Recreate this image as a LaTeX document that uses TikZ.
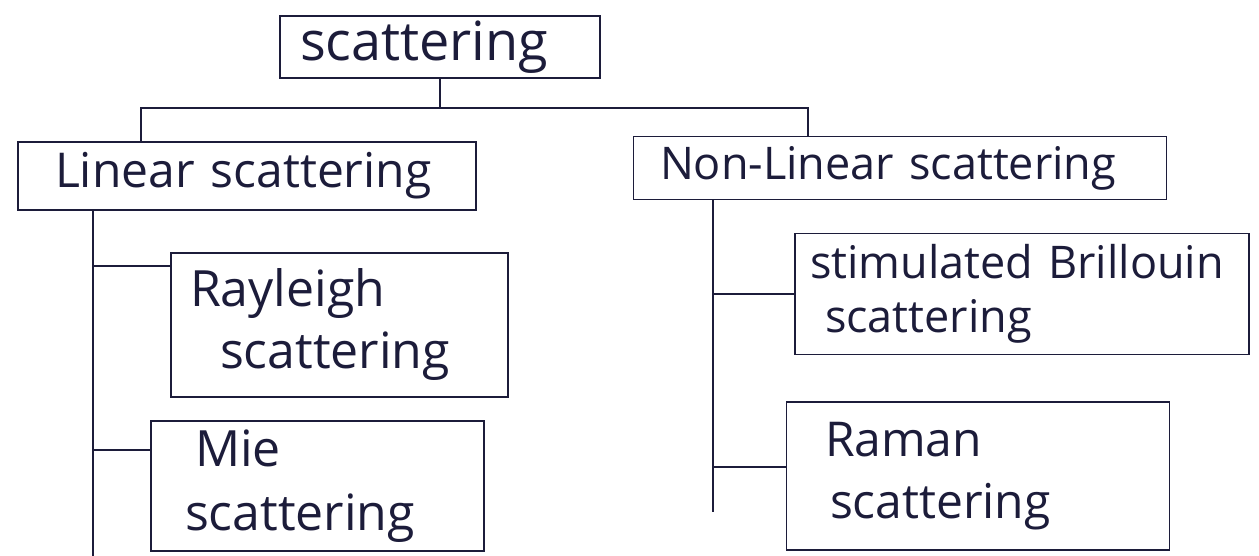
\documentclass[tikz,border=0pt]{standalone}
\usepackage{fontspec}
\setmainfont{Open Sans}
\definecolor{ink}{RGB}{28,28,58}
\begin{document}
\begin{tikzpicture}[x=1pt,y=-1pt,
  every node/.style={text=ink},
  box/.style={draw=ink, line width=1.6pt, inner xsep=0pt, inner ysep=0pt,
    align=left},
  fs/.style 2 args={font=\fontsize{#1}{#2}\selectfont},
  wire/.style={draw=ink, line width=1.6pt}]
\useasboundingbox[fill=white] (0,0) rectangle (1259,556);

% root
\node[box, fs={54}{70}, minimum width=320pt, minimum height=62pt, text width=280pt] (root) at (440,47) {scattering};

% first level
\node[box, fs={48}{62}, minimum width=458pt, minimum height=68pt, text width=384pt] (lin) at (247,176) {Linear scattering};
\node[box, fs={45}{58}, minimum width=533pt, minimum height=63pt, text width=480pt] (nlin) at (900,168) {Non-Linear scattering};

% linear branch
\node[box, fs={50}{62}, minimum width=337pt, minimum height=144pt, text width=299pt] (ray) at (339.5,325) {Rayleigh\\\hspace*{30pt}scattering};
\node[box, fs={50}{64}, minimum width=333pt, minimum height=130pt, text width=265pt] (mie) at (317.5,486) {\hspace*{10pt}Mie\\scattering};

% non-linear branch
\node[box, fs={45}{54}, minimum width=454pt, minimum height=121pt, text width=424pt] (sbs) at (1022,294) {stimulated Brillouin\\\hspace*{15pt}scattering};
\node[box, fs={48}{62}, minimum width=383pt, minimum height=148pt, text width=306pt] (ram) at (978,476) {Raman\\\hspace*{5pt}scattering};

% junctions and trunk ends
\coordinate (jl) at (141,108);
\coordinate (jr) at (808,108);
\coordinate (lend) at (93,556);
\coordinate (nend) at (713,512);

% root to first level
\draw[wire] (root.south) -- (root.south |- jl);
\draw[wire] (lin.north -| jl) -- (jl) -- (jr) -- (nlin.north -| jr);

% linear trunk and branches
\draw[wire] (lin.south -| lend) -- (lend);
\draw[wire] ([yshift=-14pt]ray.north west) -- ([yshift=-14pt]ray.north west -| lend);
\draw[wire] ([yshift=-30pt]mie.north west) -- ([yshift=-30pt]mie.north west -| lend);

% non-linear trunk and branches
\draw[wire] (nlin.south -| nend) -- (nend);
\draw[wire] (sbs.west) -- (sbs.west -| nend);
\draw[wire] ([yshift=9pt]ram.west) -- ([yshift=9pt]ram.west -| nend);
\end{tikzpicture}
\end{document}
